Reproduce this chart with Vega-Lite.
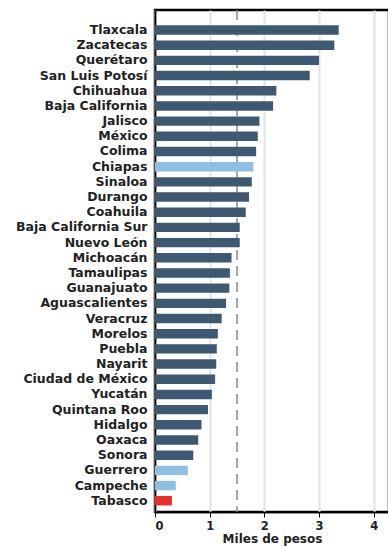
{
  "$schema": "https://vega.github.io/schema/vega-lite/v6.json",
  "width": 234,
  "height": 502,
  "autosize": {"type": "none"},
  "padding": {"left": 155, "top": 10, "right": 0, "bottom": 35},
  "config": {"view": {"stroke": "black", "strokeWidth": 2.5, "strokeOpacity": 1}, "font": "DejaVu Sans"},
  "data": {
    "values": [
      {"estado": "Tlaxcala", "valor": 3.36, "grupo": "base"},
      {"estado": "Zacatecas", "valor": 3.28, "grupo": "base"},
      {"estado": "Querétaro", "valor": 3.0, "grupo": "base"},
      {"estado": "San Luis Potosí", "valor": 2.83, "grupo": "base"},
      {"estado": "Chihuahua", "valor": 2.22, "grupo": "base"},
      {"estado": "Baja California", "valor": 2.16, "grupo": "base"},
      {"estado": "Jalisco", "valor": 1.91, "grupo": "base"},
      {"estado": "México", "valor": 1.88, "grupo": "base"},
      {"estado": "Colima", "valor": 1.85, "grupo": "base"},
      {"estado": "Chiapas", "valor": 1.8, "grupo": "azul"},
      {"estado": "Sinaloa", "valor": 1.77, "grupo": "base"},
      {"estado": "Durango", "valor": 1.72, "grupo": "base"},
      {"estado": "Coahuila", "valor": 1.66, "grupo": "base"},
      {"estado": "Baja California Sur", "valor": 1.55, "grupo": "base"},
      {"estado": "Nuevo León", "valor": 1.55, "grupo": "base"},
      {"estado": "Michoacán", "valor": 1.4, "grupo": "base"},
      {"estado": "Tamaulipas", "valor": 1.37, "grupo": "base"},
      {"estado": "Guanajuato", "valor": 1.36, "grupo": "base"},
      {"estado": "Aguascalientes", "valor": 1.3, "grupo": "base"},
      {"estado": "Veracruz", "valor": 1.22, "grupo": "base"},
      {"estado": "Morelos", "valor": 1.15, "grupo": "base"},
      {"estado": "Puebla", "valor": 1.13, "grupo": "base"},
      {"estado": "Nayarit", "valor": 1.12, "grupo": "base"},
      {"estado": "Ciudad de México", "valor": 1.1, "grupo": "base"},
      {"estado": "Yucatán", "valor": 1.04, "grupo": "base"},
      {"estado": "Quintana Roo", "valor": 0.97, "grupo": "base"},
      {"estado": "Hidalgo", "valor": 0.85, "grupo": "base"},
      {"estado": "Oaxaca", "valor": 0.79, "grupo": "base"},
      {"estado": "Sonora", "valor": 0.7, "grupo": "base"},
      {"estado": "Guerrero", "valor": 0.6, "grupo": "azul"},
      {"estado": "Campeche", "valor": 0.38, "grupo": "azul"},
      {"estado": "Tabasco", "valor": 0.31, "grupo": "rojo"}
    ]
  },
  "layer": [
    {
      "data": {"values": [{"ref": 1.5}]},
      "mark": {"type": "rule", "strokeDash": [10, 6], "color": "#8a8a8a", "strokeWidth": 1.5},
      "encoding": {
        "x": {"field": "ref", "type": "quantitative"}
      }
    },
    {
      "mark": {"type": "bar"},
      "encoding": {
        "y": {
          "field": "estado",
          "type": "nominal",
          "sort": null,
          "scale": {"paddingInner": 0.38, "paddingOuter": 0.72, "align": 0.7},
          "axis": {"title": null, "ticks": false, "domain": true, "domainColor": "#000000", "domainWidth": 1.5, "labelPadding": 8, "labelFontSize": 12.5, "labelFontWeight": "bold", "labelColor": "#222222"}
        },
        "x": {
          "field": "valor",
          "type": "quantitative",
          "scale": {"domain": [0, 4.28], "nice": false},
          "axis": {"orient": "bottom", "values": [0, 1, 2, 3, 4], "grid": true, "gridColor": "#e3e3e3", "gridWidth": 2, "tickColor": "#000000", "tickSize": 5, "domainColor": "#000000", "domainWidth": 1.5, "labelFontSize": 11.5, "labelFontWeight": "bold", "labelColor": "#222222", "labelPadding": 3, "title": "Miles de pesos", "titleFontSize": 12, "titleFontWeight": "bold", "titleColor": "#222222", "titlePadding": 2}
        },
        "color": {
          "field": "grupo",
          "type": "nominal",
          "scale": {"domain": ["base", "azul", "rojo"], "range": ["#3e5a73", "#8ec0e6", "#e8302a"]},
          "legend": null
        }
      }
    }
  ]
}
